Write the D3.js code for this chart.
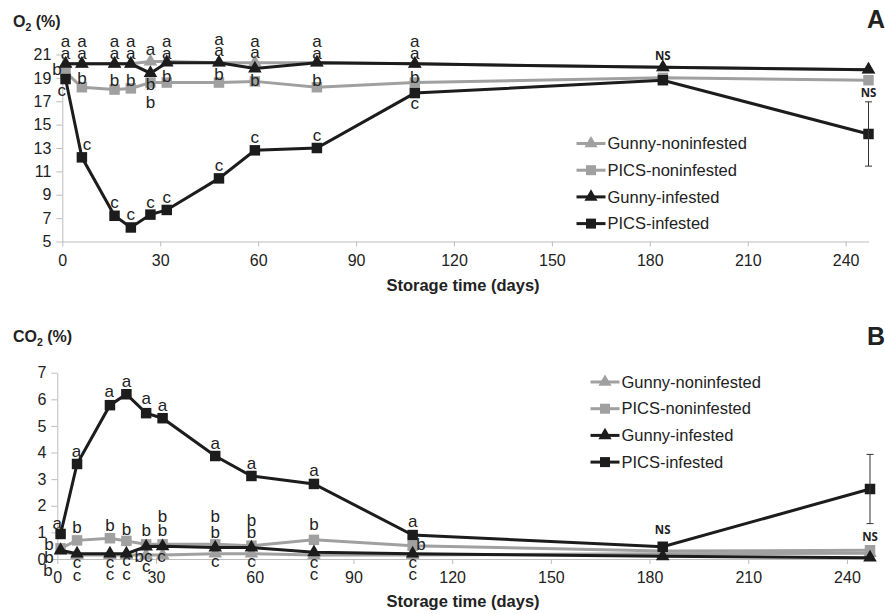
<!DOCTYPE html>
<html>
<head>
<meta charset="utf-8">
<script src="https://cdn.jsdelivr.net/npm/d3@7/dist/d3.min.js"></script>
<style>
  body { margin: 0; background: #fff; }
  svg { display: block; font-family: "Liberation Sans", Arial, sans-serif; }
</style>
</head>
<body>
<svg id="chart" width="885" height="614"></svg>
<script>
// storage days sampled
var days = [1, 6, 16, 21, 27, 32, 48, 59, 78, 108, 184, 247];
var seriesNames = ["Gunny-noninfested", "PICS-noninfested", "Gunny-infested", "PICS-infested"];
var xTicks = [0, 30, 60, 90, 120, 150, 180, 210, 240];

// panel A, O2 (%)
var o2GunnyNon = [20.2, 20.2, 20.2, 20.2, 20.4, 20.4, 20.3, 20.3, 20.3, 20.2, 19.9, 19.7];
var o2PicsNon = [19.5, 18.2, 18.0, 18.1, 18.6, 18.6, 18.6, 18.7, 18.2, 18.6, 19.0, 18.8];
var o2GunnyInf = [20.2, 20.2, 20.2, 20.2, 19.4, 20.3, 20.3, 19.8, 20.3, 20.2, 19.9, 19.7];
var o2PicsInf = [18.9, 12.2, 7.2, 6.2, 7.3, 7.7, 10.4, 12.8, 13.0, 17.7, 18.8, 14.2];
var o2PicsInfErr = [null, null, null, null, null, null, null, null, null, null, null, 2.75];
var o2Ticks = [5, 7, 9, 11, 13, 15, 17, 19, 21];

// letters: [day, O2 value where the letter sits, letter]
var o2Letters = [
  [1, 22.1, "a"], [1, 21.1, "a"], [-1.6, 19.7, "b"], [-0.2, 17.9, "c"],
  [6, 22.1, "a"], [6, 21.1, "a"], [6, 18.9, "b"], [7.6, 13.3, "c"],
  [16, 22.1, "a"], [16, 21.1, "a"], [16, 18.8, "b"], [16, 8.3, "c"],
  [21, 22.1, "a"], [21, 21.1, "a"], [21, 18.8, "b"], [21, 7.3, "c"],
  [27, 21.4, "a"], [27, 18.4, "b"], [27, 16.9, "b"], [27, 8.3, "c"],
  [32, 22.1, "a"], [32, 21.1, "a"], [32, 19.1, "b"], [32, 8.8, "c"],
  [48, 22.3, "a"], [48, 21.3, "a"], [48, 19.25, "b"], [48, 11.5, "c"],
  [59, 22.1, "a"], [59, 21.2, "a"], [59, 18.8, "b"], [59, 13.9, "c"],
  [78, 22.1, "a"], [78, 21.1, "a"], [78, 18.8, "b"], [78, 14.1, "c"],
  [108, 22.1, "a"], [108, 21.1, "a"], [108, 19.0, "b"], [108, 16.8, "c"]
];
var o2NS = [[184, 20.9], [247, 17.7]];

// panel B, CO2 (%)
var co2GunnyNon = [0.3, 0.15, 0.15, 0.15, 0.15, 0.15, 0.2, 0.2, 0.15, 0.15, 0.2, 0.22];
var co2PicsNon = [0.4, 0.7, 0.78, 0.68, 0.55, 0.55, 0.55, 0.5, 0.72, 0.5, 0.3, 0.33];
var co2GunnyInf = [0.33, 0.2, 0.2, 0.2, 0.47, 0.48, 0.43, 0.43, 0.25, 0.2, 0.1, 0.05];
var co2PicsInf = [0.94, 3.57, 5.78, 6.19, 5.48, 5.29, 3.87, 3.12, 2.82, 0.9, 0.46, 2.63];
var co2PicsInfErr = [null, null, null, null, null, null, null, null, null, null, null, 1.3];
var co2Ticks = [0, 1, 2, 3, 4, 5, 6, 7];

var co2Letters = [
  [0, 1.32, "a"], [-2.5, 0.53, "b"], [-2.5, 0.04, "b"], [-2.8, -0.45, "b"],
  [5.8, 4.02, "a"], [6, 1.2, "b"], [6, -0.15, "c"], [6, -0.64, "c"],
  [15.8, 6.31, "a"], [16, 1.24, "b"], [16, -0.15, "c"], [16, -0.6, "c"],
  [21, 6.65, "a"], [21, 1.09, "b"], [21, -0.04, "c"], [21, -0.6, "c"],
  [27, 6.01, "a"], [27, 1.05, "b"], [26.2, 0.08, "bc"], [27, -0.3, "c"],
  [32, 5.75, "a"], [32, 1.58, "b"], [32, 1.05, "b"], [31.7, 0.11, "c"],
  [48, 4.32, "a"], [48, 1.58, "b"], [48, 1.01, "b"], [48, -0.11, "c"],
  [59, 3.57, "a"], [59, 1.43, "b"], [59, 0.98, "b"], [59, -0.11, "c"],
  [78, 3.31, "a"], [78, 1.28, "b"], [78, -0.15, "c"], [78, -0.6, "c"],
  [108, 1.39, "a"], [110.5, 0.53, "b"], [108, -0.15, "c"], [108, -0.6, "c"]
];
var co2NS = [[184, 1.09], [247, 0.83]];

var gray = "#a0a0a0";
var black = "#1c1c1c";
var seriesColors = [gray, gray, black, black];
var seriesShapes = [d3.symbolTriangle, d3.symbolSquare, d3.symbolTriangle, d3.symbolSquare];

var svg = d3.select("#chart");

function drawPanel(p) {
  var x = d3.scaleLinear().domain([0, 247]).range(p.xRange);
  var y = d3.scaleLinear().domain(p.yDomain).range(p.yRange);
  var g = svg.append("g");

  // axes
  var xAxis = g.append("g")
    .attr("transform", "translate(0," + p.yRange[0] + ")")
    .call(d3.axisBottom(x).tickValues(xTicks).tickSize(5).tickSizeOuter(0).tickPadding(8));
  var yAxis = g.append("g")
    .attr("transform", "translate(" + p.xRange[0] + ",0)")
    .call(d3.axisLeft(y).tickValues(p.yTicks).tickFormat(d3.format("d"))
      .tickSize(6).tickSizeOuter(0).tickPadding(5));
  [xAxis, yAxis].forEach(function (a) {
    a.select(".domain").attr("stroke", "#bdbdbd");
    a.selectAll(".tick line").attr("stroke", "#bdbdbd");
    a.selectAll(".tick text")
      .attr("fill", "#222")
      .style("font-size", "16px")
      .style("font-family", "Liberation Sans, Arial, sans-serif");
  });

  // series lines + markers
  var line = d3.line().x(function (d) { return x(d[0]); }).y(function (d) { return y(d[1]); });
  p.series.forEach(function (vals, i) {
    var pts = days.map(function (d, j) { return [d, vals[j]]; });
    g.append("path")
      .datum(pts)
      .attr("fill", "none")
      .attr("stroke", seriesColors[i])
      .attr("stroke-width", 3)
      .attr("d", line);
    g.selectAll(null)
      .data(pts)
      .enter().append("path")
      .attr("transform", function (d) { return "translate(" + x(d[0]) + "," + y(d[1]) + ")"; })
      .attr("d", d3.symbol().type(seriesShapes[i]).size(seriesShapes[i] === d3.symbolSquare ? 110 : 80))
      .attr("fill", seriesColors[i]);
  });

  // error bars on PICS-infested
  days.forEach(function (d, j) {
    var e = p.err[j];
    if (e == null) return;
    var v = p.series[3][j];
    var cx = x(d);
    g.append("line").attr("x1", cx).attr("x2", cx).attr("y1", y(v - e)).attr("y2", y(v + e))
      .attr("stroke", "#333").attr("stroke-width", 1);
    [v - e, v + e].forEach(function (w) {
      g.append("line").attr("x1", cx - 3.5).attr("x2", cx + 3.5).attr("y1", y(w)).attr("y2", y(w))
        .attr("stroke", "#333").attr("stroke-width", 1);
    });
  });

  // significance letters
  g.selectAll(null)
    .data(p.letters)
    .enter().append("text")
    .attr("x", function (d) { return x(d[0]); })
    .attr("y", function (d) { return y(d[1]); })
    .attr("dy", "0.32em")
    .attr("text-anchor", "middle")
    .style("font-size", "17px")
    .attr("fill", "#222")
    .text(function (d) { return d[2]; });

  g.selectAll(null)
    .data(p.ns)
    .enter().append("text")
    .attr("x", function (d) { return x(d[0]); })
    .attr("y", function (d) { return y(d[1]); })
    .attr("dy", "0.36em")
    .attr("text-anchor", "middle")
    .style("font-family", "'Open Sans', sans-serif")
    .style("font-weight", "bold")
    .style("font-size", "11.5px")
    .attr("fill", "#222")
    .text("NS");

  // y title
  var t = g.append("text")
    .attr("x", 13)
    .attr("y", p.titleY)
    .style("font-weight", "bold")
    .style("font-size", "16px")
    .attr("fill", "#222");
  t.append("tspan").text(p.titleMain);
  t.append("tspan").attr("dy", 4).style("font-size", "10.5px").text("2");
  t.append("tspan").attr("dy", -4).text(" (%)");

  // x title
  g.append("text")
    .attr("x", 463)
    .attr("y", p.xTitleY)
    .attr("text-anchor", "middle")
    .style("font-weight", "bold")
    .style("font-size", "16.5px")
    .attr("fill", "#222")
    .text("Storage time (days)");

  // panel letter
  g.append("text")
    .attr("x", 885)
    .attr("y", p.panelY)
    .attr("text-anchor", "end")
    .style("font-weight", "bold")
    .style("font-size", "25px")
    .attr("fill", "#222")
    .text(p.panel);

  // legend
  var leg = g.append("g");
  seriesNames.forEach(function (name, i) {
    var ly = p.legendY + i * 26.7;
    var lx = p.legendX;
    leg.append("line").attr("x1", lx).attr("x2", lx + 29).attr("y1", ly).attr("y2", ly)
      .attr("stroke", seriesColors[i]).attr("stroke-width", 3);
    leg.append("path")
      .attr("transform", "translate(" + (lx + 14.5) + "," + ly + ")")
      .attr("d", d3.symbol().type(seriesShapes[i]).size(seriesShapes[i] === d3.symbolSquare ? 100 : 75))
      .attr("fill", seriesColors[i]);
    leg.append("text")
      .attr("x", lx + 31)
      .attr("y", ly)
      .attr("dy", "0.35em")
      .style("font-size", "16.5px")
      .attr("fill", "#222")
      .text(name);
  });
}

drawPanel({
  xRange: [62.3, 868.5],
  yRange: [241.5, 54.5],
  yDomain: [5, 21],
  yTicks: o2Ticks,
  series: [o2GunnyNon, o2PicsNon, o2GunnyInf, o2PicsInf],
  err: o2PicsInfErr,
  letters: o2Letters,
  ns: o2NS,
  titleMain: "O",
  titleY: 27,
  xTitleY: 291,
  panel: "A",
  panelY: 28,
  legendX: 576.5,
  legendY: 143.5
});

drawPanel({
  xRange: [57.3, 870],
  yRange: [559, 372.7],
  yDomain: [0, 7],
  yTicks: co2Ticks,
  series: [co2GunnyNon, co2PicsNon, co2GunnyInf, co2PicsInf],
  err: co2PicsInfErr,
  letters: co2Letters,
  ns: co2NS,
  titleMain: "CO",
  titleY: 342,
  xTitleY: 607,
  panel: "B",
  panelY: 345,
  legendX: 590.5,
  legendY: 382
});
</script>
</body>
</html>
